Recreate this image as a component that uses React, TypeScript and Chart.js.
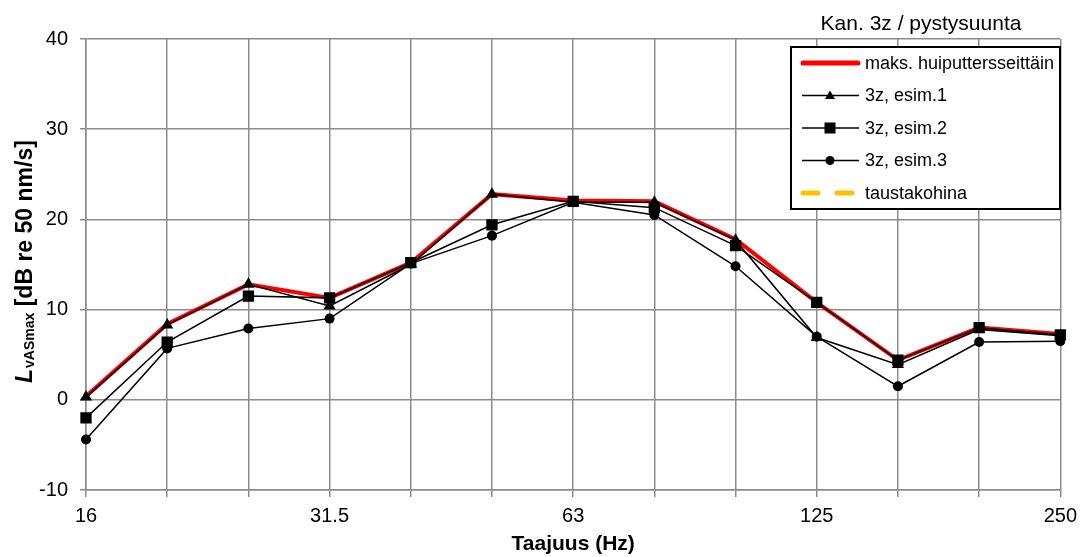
import { useEffect, useRef } from 'react';
import { Chart, registerables } from 'chart.js';

Chart.register(...registerables);

const frequencies = ['16', '20', '25', '31.5', '40', '50', '63', '80', '100', '125', '160', '200', '250'];
const shownTicks = ['16', '31.5', '63', '125', '250'];
const maxPeak = [0.4, 8.4, 12.8, 11.3, 15.2, 22.8, 22.1, 22.0, 17.8, 10.8, 4.4, 8.0, 7.3];
const esim1 = [0.3, 8.3, 12.8, 10.4, 15.0, 22.8, 21.9, 21.9, 17.7, 6.9, 3.9, 7.8, 7.1];
const esim2 = [-2.0, 6.4, 11.5, 11.3, 15.2, 19.4, 22.0, 21.3, 17.1, 10.8, 4.4, 8.0, 7.2];
const esim3 = [-4.4, 5.7, 7.9, 9.0, 15.1, 18.2, 21.9, 20.5, 14.8, 7.0, 1.5, 6.4, 6.5];
const taustakohina = [null, null, null, null, null, null, null, null, null, null, null, null, null];

const yMin = -10;
const yMax = 40;
const yStep = 10;

const chartTitle = 'Kan. 3z / pystysuunta';
const xTitle = 'Taajuus (Hz)';
const yTitleMain = 'L';
const yTitleSub = 'vASmax';
const yTitleRest = ' [dB re 50 nm/s]';
const legendLabels = ['maks. huiputtersseittäin', '3z, esim.1', '3z, esim.2', '3z, esim.3', 'taustakohina'];

const FONT = '"Liberation Sans", Arial, sans-serif';
const GRID = '#8c8c8c';
const RED = '#ff0000';
const YELLOW = '#ffc000';

function drawMarker(ctx: CanvasRenderingContext2D, style: string, x: number, y: number) {
  ctx.fillStyle = '#000';
  ctx.beginPath();
  if (style === 'triangle') {
    ctx.moveTo(x, y - 5);
    ctx.lineTo(x + 5, y + 3.5);
    ctx.lineTo(x - 5, y + 3.5);
    ctx.closePath();
  } else if (style === 'rect') {
    ctx.rect(x - 5.5, y - 5.5, 11, 11);
  } else {
    ctx.arc(x, y, 4.5, 0, Math.PI * 2);
  }
  ctx.fill();
}

const overlayPlugin = {
  id: 'overlay',
  afterDraw(chart: any) {
    const ctx: CanvasRenderingContext2D = chart.ctx;
    const area = chart.chartArea;
    ctx.save();
    ctx.fillStyle = '#000';

    // Chart title
    ctx.font = `21px ${FONT}`;
    ctx.textAlign = 'center';
    ctx.textBaseline = 'alphabetic';
    ctx.fillText(chartTitle, 921, 30);

    // X title
    ctx.font = `bold 21px ${FONT}`;
    ctx.fillText(xTitle, (area.left + area.right) / 2, 550);

    // Y title
    ctx.save();
    ctx.translate(32, 383);
    ctx.rotate(-Math.PI / 2);
    ctx.textAlign = 'left';
    ctx.font = `italic bold 23px ${FONT}`;
    ctx.fillText(yTitleMain, 0, 0);
    let w = ctx.measureText(yTitleMain).width + 1;
    ctx.font = `bold 14px ${FONT}`;
    ctx.fillText(yTitleSub, w, 2);
    w += ctx.measureText(yTitleSub).width;
    ctx.font = `bold 23px ${FONT}`;
    ctx.fillText(yTitleRest, w, 0);
    ctx.restore();

    // Legend box
    const bx = 791, by = 47, bw = 269, bh = 162;
    ctx.fillStyle = '#fff';
    ctx.fillRect(bx, by, bw, bh);
    ctx.strokeStyle = '#000';
    ctx.lineWidth = 2;
    ctx.strokeRect(bx, by, bw, bh);

    const markers = ['', 'triangle', 'rect', 'circle', ''];
    legendLabels.forEach((label, i) => {
      const y = 63 + i * 32.5;
      ctx.save();
      if (i === 0) {
        ctx.strokeStyle = RED;
        ctx.lineWidth = 5;
        ctx.lineCap = 'round';
        ctx.beginPath();
        ctx.moveTo(803, y);
        ctx.lineTo(858, y);
        ctx.stroke();
      } else if (i === 4) {
        ctx.strokeStyle = YELLOW;
        ctx.lineWidth = 5;
        ctx.lineCap = 'round';
        ctx.beginPath();
        ctx.moveTo(803, y);
        ctx.lineTo(818, y);
        ctx.moveTo(837, y);
        ctx.lineTo(852, y);
        ctx.stroke();
      } else {
        ctx.strokeStyle = '#000';
        ctx.lineWidth = 1.5;
        ctx.beginPath();
        ctx.moveTo(802, y);
        ctx.lineTo(859, y);
        ctx.stroke();
        drawMarker(ctx, markers[i], 830, y);
      }
      ctx.restore();
      ctx.fillStyle = '#000';
      ctx.font = `18px ${FONT}`;
      ctx.textAlign = 'left';
      ctx.textBaseline = 'middle';
      ctx.fillText(label, 865, y + 1);
    });

    ctx.restore();
  },
};

export default function App() {
  const canvasRef = useRef<HTMLCanvasElement | null>(null);

  useEffect(() => {
    if (!canvasRef.current) return;
    const blackLine = (label: string, data: number[], pointStyle: string, radius: number, order: number) => ({
      label,
      data,
      borderColor: '#000',
      backgroundColor: '#000',
      borderWidth: 1.5,
      pointStyle,
      pointRadius: radius,
      pointBackgroundColor: '#000',
      pointBorderColor: '#000',
      pointBorderWidth: 0,
      tension: 0,
      order,
    });
    const chart = new Chart(canvasRef.current, {
      type: 'line',
      data: {
        labels: frequencies,
        datasets: [
          blackLine('3z, esim.1', esim1, 'triangle', 7, 1) as any,
          blackLine('3z, esim.2', esim2, 'rect', 8, 2) as any,
          blackLine('3z, esim.3', esim3, 'circle', 5, 3) as any,
          {
            label: 'maks. huiputtersseittäin',
            data: maxPeak,
            borderColor: RED,
            backgroundColor: RED,
            borderWidth: 4,
            pointRadius: 0,
            tension: 0,
            order: 5,
          },
          {
            label: 'taustakohina',
            data: taustakohina,
            borderColor: YELLOW,
            borderWidth: 4,
            borderDash: [18, 16],
            pointRadius: 0,
            order: 6,
          },
        ],
      },
      options: {
        responsive: false,
        animation: false,
        events: [],
        layout: { padding: { top: 39, right: 18, left: 0, bottom: 0 } },
        plugins: {
          legend: { display: false },
          tooltip: { enabled: false },
          title: { display: false },
        },
        scales: {
          x: {
            type: 'category',
            offset: false,
            grid: { color: GRID, lineWidth: 1.5, tickLength: 7, offset: false, tickColor: GRID },
            border: { color: GRID, width: 1.5 },
            ticks: {
              autoSkip: false,
              maxRotation: 0,
              padding: 7,
              color: '#000',
              font: { family: FONT, size: 20 },
              callback: (_v: any, i: number) => (shownTicks.includes(frequencies[i]) ? frequencies[i] : ''),
            },
            afterFit: (scale: any) => {
              scale.height = 67;
            },
          },
          y: {
            min: yMin,
            max: yMax,
            grid: { color: GRID, lineWidth: 1.5, tickLength: 6, tickColor: GRID },
            border: { color: GRID, width: 1.5 },
            ticks: {
              stepSize: yStep,
              padding: 12,
              color: '#000',
              font: { family: FONT, size: 20 },
              callback: (v: any) => String(v),
            },
            afterFit: (scale: any) => {
              scale.width = 86;
            },
          },
        },
      },
      plugins: [overlayPlugin],
    } as any);
    return () => chart.destroy();
  }, []);

  return (
    <div style={{ position: 'fixed', left: 0, top: 0, width: 1084, height: 557, background: '#fff' }}>
      <canvas ref={canvasRef} width={1084} height={557} />
    </div>
  );
}
